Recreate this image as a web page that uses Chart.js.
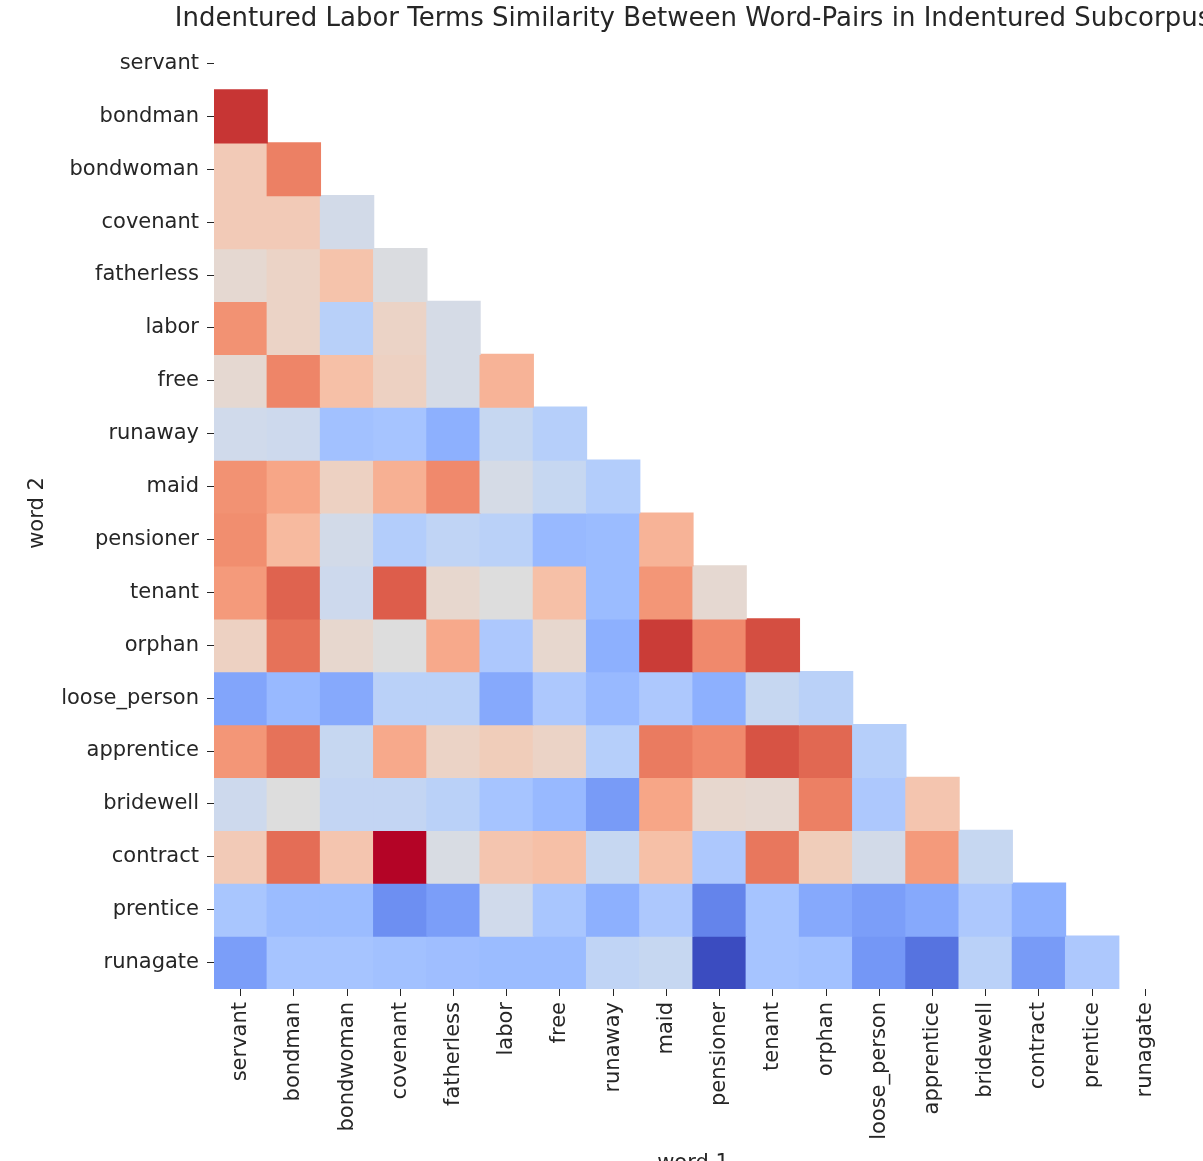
<!DOCTYPE html>
<html>
<head>
<meta charset="utf-8">
<script src="https://cdn.jsdelivr.net/npm/chart.js@4.4.1/dist/chart.umd.min.js"></script>
<style>
  html, body { margin: 0; padding: 0; background: #fff; }
  #wrap { width: 1203px; height: 1161px; position: relative; }
</style>
</head>
<body>
<div id="wrap"><canvas id="heat"></canvas></div>
<script>
// ── Data ──────────────────────────────────────
const words = ['servant', 'bondman', 'bondwoman', 'covenant', 'fatherless', 'labor', 'free',
  'runaway', 'maid', 'pensioner', 'tenant', 'orphan', 'loose_person', 'apprentice',
  'bridewell', 'contract', 'prentice', 'runagate'];

// lower triangle: row i (word 2) holds similarity with words[0..i-1] (word 1)
const similarity = [
  [],
  [0.95],
  [0.60, 0.81],
  [0.60, 0.60, 0.46],
  [0.53, 0.56, 0.63, 0.49],
  [0.77, 0.56, 0.375, 0.56, 0.47],
  [0.53, 0.80, 0.64, 0.57, 0.47, 0.68],
  [0.45, 0.44, 0.31, 0.32, 0.25, 0.42, 0.37],
  [0.77, 0.72, 0.57, 0.69, 0.79, 0.47, 0.42, 0.36],
  [0.78, 0.66, 0.46, 0.36, 0.40, 0.38, 0.28, 0.29, 0.68],
  [0.75, 0.87, 0.44, 0.88, 0.54, 0.50, 0.64, 0.29, 0.76, 0.53],
  [0.57, 0.84, 0.54, 0.50, 0.71, 0.34, 0.54, 0.25, 0.94, 0.79, 0.91],
  [0.22, 0.28, 0.23, 0.38, 0.38, 0.23, 0.34, 0.28, 0.34, 0.25, 0.42, 0.38],
  [0.76, 0.84, 0.42, 0.71, 0.56, 0.59, 0.56, 0.37, 0.82, 0.79, 0.90, 0.86, 0.37],
  [0.44, 0.50, 0.41, 0.41, 0.38, 0.32, 0.28, 0.19, 0.72, 0.54, 0.53, 0.81, 0.34, 0.62],
  [0.60, 0.85, 0.62, 1.00, 0.48, 0.62, 0.64, 0.42, 0.64, 0.34, 0.83, 0.59, 0.46, 0.75, 0.42],
  [0.33, 0.29, 0.29, 0.16, 0.20, 0.45, 0.33, 0.25, 0.34, 0.13, 0.32, 0.23, 0.20, 0.23, 0.34, 0.25],
  [0.20, 0.32, 0.32, 0.31, 0.30, 0.29, 0.29, 0.40, 0.42, 0.00, 0.32, 0.31, 0.18, 0.09, 0.38, 0.19, 0.34]
];

// ── coolwarm colormap (33 stops) ──────────────
const coolwarm = [
  [59,76,192],[68,90,204],[77,104,215],[87,117,225],[98,130,234],[108,142,241],[119,154,247],
  [130,165,251],[141,176,254],[152,185,255],[163,194,255],[174,201,253],[184,208,249],
  [194,213,244],[204,217,238],[213,219,230],[221,221,221],[229,216,209],[236,211,197],
  [241,204,185],[245,196,173],[247,187,160],[247,177,148],[247,166,135],[244,154,123],
  [241,141,111],[236,127,99],[229,112,88],[222,96,77],[213,80,66],[203,62,56],[192,40,47],[180,4,38]
];

const flat = similarity.flat();
const vmin = Math.min(...flat), vmax = Math.max(...flat);

function colorFor(v) {
  const t = Math.max(0, Math.min(1, (v - vmin) / (vmax - vmin))) * (coolwarm.length - 1);
  const i = Math.min(Math.floor(t), coolwarm.length - 2);
  const f = t - i;
  const a = coolwarm[i], b = coolwarm[i + 1];
  const c = a.map((x, k) => Math.round(x + (b[k] - x) * f));
  return `rgb(${c[0]},${c[1]},${c[2]})`;
}

// one floating-bar dataset per row
const datasets = similarity.map((row, i) => ({
  label: words[i],
  data: words.map((_, j) => j < row.length ? [i, i + 1] : null),
  backgroundColor: words.map((_, j) => j < row.length ? colorFor(row[j]) : 'transparent'),
  borderWidth: 0,
  inflateAmount: 0.6,
  grouped: false,
  barPercentage: 1,
  categoryPercentage: 1
}));

const FONT = "'DejaVu Sans', sans-serif";
const TEXT = '#262626';

// ── Title + axis labels ───────────────────────
const labelsPlugin = {
  id: 'labels',
  afterDraw(chart) {
    const { ctx, chartArea: a } = chart;
    ctx.save();
    ctx.fillStyle = TEXT;
    ctx.textAlign = 'center';
    ctx.textBaseline = 'alphabetic';
    ctx.font = `26px ${FONT}`;
    ctx.fillText('Indentured Labor Terms Similarity Between Word-Pairs in Indentured Subcorpus', (a.left + a.right) / 2, 26);

    ctx.font = `21px ${FONT}`;
    ctx.textBaseline = 'top';
    ctx.fillText('word 1', (a.left + a.right) / 2, 1153);

    ctx.translate(38, (a.top + a.bottom) / 2);
    ctx.rotate(-Math.PI / 2);
    ctx.textBaseline = 'middle';
    ctx.fillText('word 2', 0, 0);
    ctx.restore();
  }
};

new Chart(document.getElementById('heat'), {
  type: 'bar',
  data: { labels: words, datasets },
  options: {
    responsive: true,
    maintainAspectRatio: false,
    animation: false,
    layout: { padding: { top: 37, right: 31, left: 0, bottom: 0 } },
    plugins: { legend: { display: false }, tooltip: { enabled: false } },
    scales: {
      x: {
        type: 'category',
        offset: true,
        grid: { display: true, offset: false, drawOnChartArea: false, drawTicks: true, tickLength: 7, color: TEXT },
        border: { display: false },
        ticks: { autoSkip: false, maxRotation: 90, minRotation: 90, padding: 6, color: TEXT, font: { family: FONT, size: 21 } },
        afterFit: s => { s.height = 1161 - 989; }
      },
      y: {
        type: 'linear',
        min: 0,
        max: words.length,
        reverse: true,
        grid: { display: true, drawOnChartArea: false, drawTicks: true, tickLength: 7, color: TEXT },
        border: { display: false },
        afterBuildTicks: axis => { axis.ticks = words.map((_, i) => ({ value: i + 0.5 })); },
        ticks: {
          autoSkip: false,
          padding: 8,
          color: TEXT,
          font: { family: FONT, size: 21 },
          callback: v => words[Math.floor(v)]
        },
        afterFit: s => { s.width = 214; }
      }
    }
  },
  plugins: [labelsPlugin]
});
</script>
</body>
</html>
